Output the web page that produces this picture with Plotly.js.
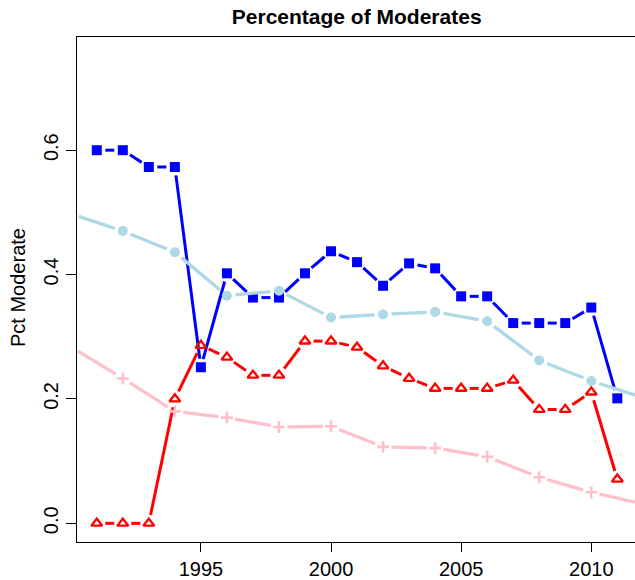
<!DOCTYPE html>
<html>
<head>
<meta charset="utf-8">
<script src="https://cdn.plot.ly/plotly-3.0.1.min.js"></script>
<style>html,body{margin:0;padding:0;background:#fff;}#chart{width:635px;height:580px;}</style>
</head>
<body>
<div id="chart"></div>
<script>
// ---- data ----
const years = [1991,1992,1993,1994,1995,1996,1997,1998,1999,2000,2001,2002,2003,2004,2005,2006,2007,2008,2009,2010,2011];
const blueVals = [0.600,0.600,0.573,0.573,0.251,0.402,0.363,0.363,0.402,0.4375,0.420,0.382,0.418,0.410,0.365,0.365,0.322,0.322,0.322,0.347,0.201];
const redVals  = [0.000,0.000,0.000,0.200,0.286,0.267,0.238,0.238,0.293,0.293,0.283,0.253,0.233,0.217,0.217,0.217,0.230,0.183,0.183,0.211,0.071];
const smoothYears = [1990,1992,1994,1996,1998,2000,2002,2004,2006,2008,2010,2012];
const lightblueVals = [0.498,0.470,0.436,0.366,0.374,0.331,0.336,0.340,0.325,0.262,0.229,0.202];
const pinkVals      = [0.284,0.233,0.180,0.170,0.155,0.156,0.123,0.121,0.107,0.074,0.050,0.031];
const xTicks = [1995,2000,2005,2010];
const yTicks = [0,0.2,0.4,0.6];
const yTickText = ['0.0','0.2','0.4','0.6'];

// ---- layout geometry ----
const W = 635, H = 580;
const M = {l:77, r:0, t:37, b:38};
const xRange = [1990.24, 2011.68];
const yRange = [-0.030, 0.782];
const plotW = W - M.l - M.r, plotH = H - M.t - M.b;
const sx = plotW / (xRange[1]-xRange[0]);
const sy = plotH / (yRange[1]-yRange[0]);

// R type="b": line segments stop short of each point by a gap (in px)
function gapped(xs, ys, gap){
  const gx = [], gy = [];
  for (let i=0;i<xs.length-1;i++){
    const dxp = (xs[i+1]-xs[i])*sx, dyp = (ys[i+1]-ys[i])*sy;
    const d = Math.hypot(dxp, dyp);
    if (d <= 2*gap) continue;
    const f = gap/d;
    gx.push(xs[i] + (xs[i+1]-xs[i])*f, xs[i+1] - (xs[i+1]-xs[i])*f, null);
    gy.push(ys[i] + (ys[i+1]-ys[i])*f, ys[i+1] - (ys[i+1]-ys[i])*f, null);
  }
  return {x:gx, y:gy};
}

function series(xs, ys, color, lw, marker, gap){
  const g = gapped(xs, ys, gap);
  return [
    {x:g.x, y:g.y, type:'scatter', mode:'lines', line:{color:color, width:lw}, connectgaps:false, hoverinfo:'skip', showlegend:false, cliponaxis:true},
    {x:xs, y:ys, type:'scatter', mode:'markers', marker:marker, showlegend:false, cliponaxis:true}
  ];
}

const traces = [].concat(
  series(years, blueVals, '#0000FF', 3, {symbol:'square', size:10, color:'#0000FF', line:{width:0}}, 8.5),
  series(years, redVals, '#FF0000', 3, {symbol:'triangle-up-open', size:9.5, color:'#FF0000', line:{color:'#FF0000', width:2.3}}, 8.5),
  series(smoothYears, lightblueVals, '#ADD8E6', 3.3, {symbol:'circle', size:10, color:'#ADD8E6', line:{width:0}}, 8.5),
  series(smoothYears, pinkVals, '#FFC0CB', 3.3, {symbol:'cross-thin', size:8.5, color:'#FFC0CB', line:{color:'#FFC0CB', width:2.6}}, 8.5)
);

const font = {family:'"Liberation Sans", Arial, sans-serif', color:'#000'};

const layout = {
  width:W, height:H,
  margin:M,
  paper_bgcolor:'#fff', plot_bgcolor:'#fff',
  showlegend:false,
  font:font,
  title:{text:'Percentage of Moderates', font:{family:font.family, size:21, weight:'bold', color:'#000'},
         xref:'container', yref:'container', x:356.7/W, xanchor:'center', y:1-16.5/H, yanchor:'middle'},
  xaxis:{range:xRange, tickvals:xTicks, ticks:'outside', ticklen:9, tickwidth:1, tickcolor:'#000',
         showline:true, linecolor:'#000', linewidth:1, mirror:true, showgrid:false, zeroline:false,
         tickfont:{family:font.family, size:20, color:'#000'}, automargin:false, fixedrange:true},
  yaxis:{range:yRange, tickvals:yTicks, ticktext:yTickText, tickangle:-90, ticks:'outside', ticklen:10, tickwidth:1, tickcolor:'#000',
         showline:true, linecolor:'#000', linewidth:1, mirror:false, showgrid:false, zeroline:false,
         tickfont:{family:font.family, size:20, color:'#000'}, automargin:false, fixedrange:true},
  annotations:[{text:'Pct Moderate', textangle:-90, showarrow:false,
                xref:'paper', yref:'paper', x:(18-M.l)/plotW, y:(H-M.b-288)/plotH, xanchor:'center', yanchor:'middle',
                font:{family:font.family, size:20, color:'#000'}}]
};

Plotly.newPlot('chart', traces, layout, {staticPlot:true, displayModeBar:false});
</script>
</body>
</html>
